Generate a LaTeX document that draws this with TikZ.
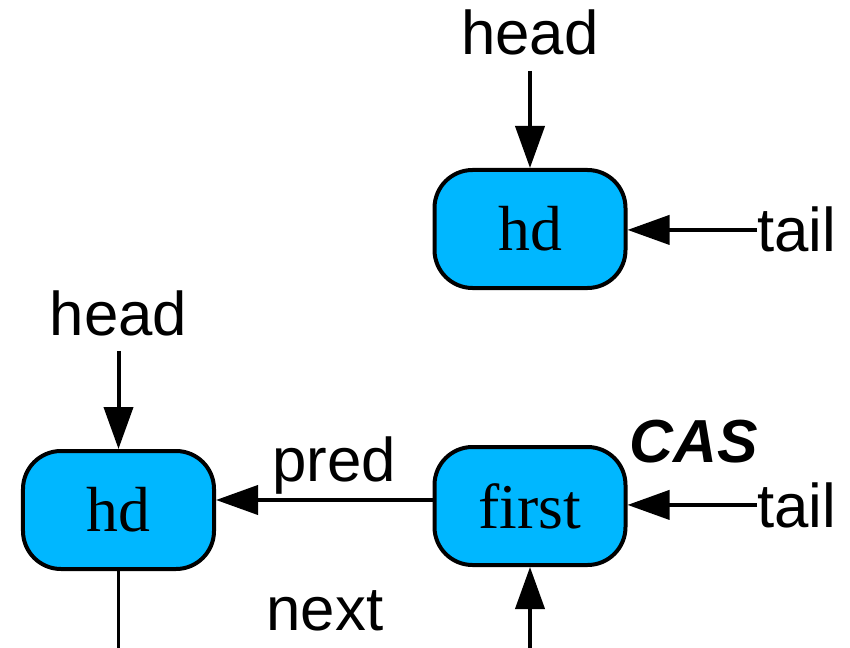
\documentclass[tikz,border=0pt]{standalone}
\usepackage{fontspec}
\setmainfont{Liberation Serif}
\setsansfont{Liberation Sans}
\usetikzlibrary{arrows.meta,positioning}
\definecolor{cellblue}{RGB}{0,183,255}

\begin{document}
\begin{tikzpicture}[x=1bp, y=-1bp,
    cell/.style={rectangle, draw=black, fill=cellblue, rounded corners=38bp, line width=4bp,
                 minimum width=191bp, minimum height=118bp, text centered, font=\fontsize{64}{64}\selectfont},
    lbl/.style={font=\sffamily\fontsize{62}{62}\selectfont, inner sep=0pt},
    arrow/.style={-{Triangle[length=42bp,width=29bp]}, line width=4bp}
]
\useasboundingbox (0,0) rectangle (850,648);

% empty queue
\node[cell] (hdtop) at (530,229) {hd};
\node[lbl, anchor=base] (headtop) at (530,55) {head};
\node[lbl, anchor=base west] (tailtop) at (757,252) {tail};

\draw[arrow] ([yshift=-15bp]headtop.south) -- (hdtop.north);
\draw[arrow] (tailtop.west) -- (tailtop.west -| hdtop.east);

% enqueue of first node
\node[cell] (hd) at (118.5,510) {hd};
\node[cell] (first) at (530,506) {first};
\node[lbl, anchor=base] (headbot) at (118.5,335) {head};
\node[lbl, anchor=base west] (tailbot) at (757,527) {tail};
\node[lbl, anchor=base] (pred) at (334,481) {pred};
\node[lbl, anchor=base] (next) at (325,630) {next};
\node[lbl, anchor=base, font=\sffamily\bfseries\itshape\fontsize{61}{61}\selectfont] (cas) at (694,462) {CAS};
\coordinate (hdout) at (118.5,648);
\coordinate (firstin) at (530,648);

\draw[arrow] ([yshift=-15bp]headbot.south) -- (hd.north);
\draw[arrow] ([yshift=6bp]first.west) -- ([yshift=6bp]first.west -| hd.east);
\draw[arrow] (tailbot.west) -- (tailbot.west -| first.east);
\draw[line width=3.5bp] (hd.south) -- (hdout);
\draw[arrow] (firstin) -- (first.south);

\end{tikzpicture}
\end{document}
